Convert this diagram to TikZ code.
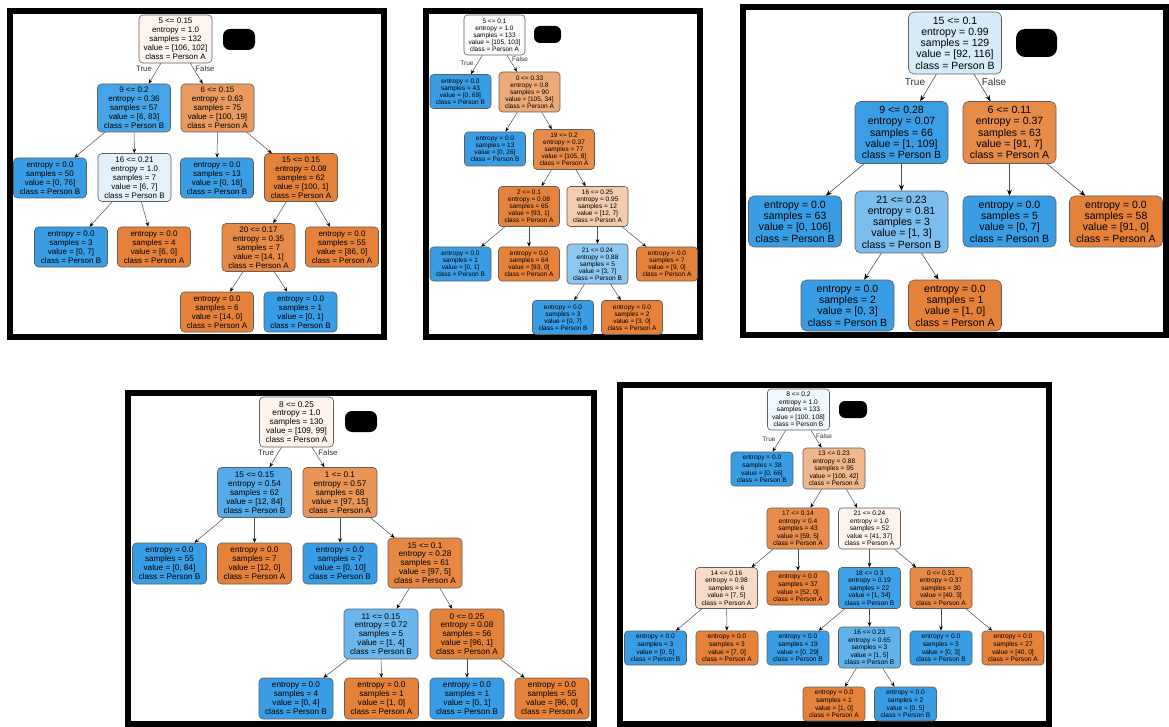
\documentclass[tikz,border=0pt]{standalone}
\usepackage{fontspec}
\setmainfont{Liberation Sans}
\usetikzlibrary{arrows.meta}
\definecolor{cB}{RGB}{57,157,229}
\definecolor{cA}{RGB}{229,129,57}
\definecolor{edgegray}{RGB}{80,80,80}
\definecolor{boxgray}{RGB}{95,95,95}
\tikzset{
  tn/.style={draw=boxgray, line width=0.6pt, align=center, inner sep=0pt, text=black},
  pa/.style={tn, rounded corners=4pt, font=\fontsize{8}{9}\selectfont, minimum width=73pt},
  pas/.style={pa, minimum height=48pt}, pal/.style={pa, minimum height=40pt},
  pb/.style={tn, rounded corners=3.5pt, font=\fontsize{6.5}{7.1}\selectfont, minimum width=61pt},
  pbs/.style={pb, minimum height=40pt}, pbl/.style={pb, minimum height=34pt},
  pc/.style={tn, rounded corners=5.5pt, font=\fontsize{10.5}{11.3}\selectfont, minimum width=93pt},
  pcs/.style={pc, minimum height=62pt}, pcl/.style={pc, minimum height=51pt},
  pd/.style={tn, rounded corners=4pt, font=\fontsize{8.2}{8.9}\selectfont, minimum width=74pt},
  pds/.style={pd, minimum height=50pt}, pdl/.style={pd, minimum height=41pt},
  pe/.style={tn, rounded corners=3.5pt, font=\fontsize{6.6}{7.6}\selectfont, minimum width=62pt},
  pes/.style={pe, minimum height=41pt}, pel/.style={pe, minimum height=34pt},
  edgeS/.style={draw=edgegray, line width=0.5pt, -{Stealth[length=4.5pt,width=3.6pt,color=black,fill=black]}},
  edgeL/.style={draw=edgegray, line width=0.6pt, -{Stealth[length=6pt,width=4.8pt,color=black,fill=black]}},
  lbl/.style={inner sep=0pt, text=black!80},
  redact/.style={fill=black, draw=none, inner sep=0pt},
  frame/.style={draw=black, line width=5.5pt}
}
\begin{document}
\begin{tikzpicture}[x=1pt,y=-1pt]
\fill[white] (0,0) rectangle (1169,727);
\useasboundingbox (0,0) rectangle (1169,727);

% ---------------- Panel 1 ----------------
\draw[frame] (10,11) rectangle (384,337);
\node[redact, rounded corners=7pt, minimum width=32pt, minimum height=21pt] (ar) at (239,39.5) {};
\node[pas, fill={rgb,255:red,253;green,245;blue,240}] (a0) at (175.5,39) {5 <= 0.15\\entropy = 1.0\\samples = 132\\value = [106, 102]\\class = Person A};
\node[pas, fill={rgb,255:red,71;green,164;blue,231}] (a1) at (134,108) {9 <= 0.2\\entropy = 0.36\\samples = 57\\value = [6, 83]\\class = Person B};
\node[pas, fill={rgb,255:red,234;green,153;blue,95}] (a2) at (217.5,108) {6 <= 0.15\\entropy = 0.63\\samples = 75\\value = [100, 19]\\class = Person A};
\node[pal, fill=cB] (a3) at (50,178) {entropy = 0.0\\samples = 50\\value = [0, 76]\\class = Person B};
\node[pas, fill={rgb,255:red,227;green,241;blue,251}] (a4) at (134.5,177.5) {16 <= 0.21\\entropy = 1.0\\samples = 7\\value = [6, 7]\\class = Person B};
\node[pal, fill=cB] (a5) at (217,178) {entropy = 0.0\\samples = 13\\value = [0, 18]\\class = Person B};
\node[pas, fill={rgb,255:red,229;green,130;blue,58}] (a6) at (301,177.5) {15 <= 0.15\\entropy = 0.08\\samples = 62\\value = [100, 1]\\class = Person A};
\node[pal, fill=cB] (a7) at (71,247) {entropy = 0.0\\samples = 3\\value = [0, 7]\\class = Person B};
\node[pal, fill=cA] (a8) at (154,247) {entropy = 0.0\\samples = 4\\value = [6, 0]\\class = Person A};
\node[pas, fill={rgb,255:red,231;green,138;blue,72}] (a9) at (258.5,247.5) {20 <= 0.17\\entropy = 0.35\\samples = 7\\value = [14, 1]\\class = Person A};
\node[pal, fill=cA] (a10) at (342,247) {entropy = 0.0\\samples = 55\\value = [86, 0]\\class = Person A};
\node[pal, fill=cA] (a11) at (217,312) {entropy = 0.0\\samples = 6\\value = [14, 0]\\class = Person A};
\node[pal, fill=cB] (a12) at (300.5,312) {entropy = 0.0\\samples = 1\\value = [0, 1]\\class = Person B};
\node[lbl, font=\fontsize{7.8}{9}\selectfont] (aT) at (144,69) {True};
\node[lbl, font=\fontsize{7.8}{9}\selectfont] (aF) at (205,69) {False};
\foreach \p/\c in {a0/a1,a0/a2,a1/a3,a1/a4,a2/a5,a2/a6,a4/a7,a4/a8,a6/a9,a6/a10,a9/a11,a9/a12}
  \draw[edgeS] (\p) -- (\c);

% ---------------- Panel 2 ----------------
\draw[frame] (426,11) rectangle (700,337);
\node[redact, rounded corners=6pt, minimum width=27pt, minimum height=17pt] (br) at (547.5,34.5) {};
\node[pbs, fill={rgb,255:red,254;green,252;blue,251}] (b0) at (494.5,35) {5 <= 0.1\\entropy = 1.0\\samples = 133\\value = [105, 103]\\class = Person A};
\node[pbl, fill=cB] (b1) at (460.5,91.5) {entropy = 0.0\\samples = 43\\value = [0, 69]\\class = Person B};
\node[pbs, fill={rgb,255:red,237;green,170;blue,121}] (b2) at (529.5,92) {0 <= 0.33\\entropy = 0.8\\samples = 90\\value = [105, 34]\\class = Person A};
\node[pbl, fill=cB] (b3) at (495,149) {entropy = 0.0\\samples = 13\\value = [0, 26]\\class = Person B};
\node[pbs, fill={rgb,255:red,231;green,139;blue,72}] (b4) at (564,149.5) {19 <= 0.2\\entropy = 0.37\\samples = 77\\value = [105, 8]\\class = Person A};
\node[pbs, fill={rgb,255:red,229;green,130;blue,59}] (b5) at (529,206.5) {2 <= 0.1\\entropy = 0.08\\samples = 65\\value = [93, 1]\\class = Person A};
\node[pbs, fill={rgb,255:red,244;green,203;blue,172}] (b6) at (597.5,206.5) {16 <= 0.25\\entropy = 0.95\\samples = 12\\value = [12, 7]\\class = Person A};
\node[pbl, fill=cB] (b7) at (460.5,264) {entropy = 0.0\\samples = 1\\value = [0, 1]\\class = Person B};
\node[pbl, fill=cA] (b8) at (529,264) {entropy = 0.0\\samples = 64\\value = [93, 0]\\class = Person A};
\node[pbs, fill={rgb,255:red,142;green,199;blue,240}] (b9) at (597.5,264) {21 <= 0.24\\entropy = 0.88\\samples = 5\\value = [3, 7]\\class = Person B};
\node[pbl, fill=cA] (b10) at (667,264) {entropy = 0.0\\samples = 7\\value = [9, 0]\\class = Person A};
\node[pbl, fill=cB] (b11) at (563,317.5) {entropy = 0.0\\samples = 3\\value = [0, 7]\\class = Person B};
\node[pbl, fill=cA] (b12) at (632,317.5) {entropy = 0.0\\samples = 2\\value = [3, 0]\\class = Person A};
\node[lbl, font=\fontsize{6.5}{7}\selectfont] (bT) at (467,63) {True};
\node[lbl, font=\fontsize{6.5}{7}\selectfont] (bF) at (520,59) {False};
\foreach \p/\c in {b0/b1,b0/b2,b2/b3,b2/b4,b4/b5,b4/b6,b5/b7,b5/b8,b6/b9,b6/b10,b9/b11,b9/b12}
  \draw[edgeS] (\p) -- (\c);

% ---------------- Panel 3 ----------------
\draw[frame] (743,7) rectangle (1166,335);
\node[redact, rounded corners=9pt, minimum width=41pt, minimum height=28pt] (cr) at (1036.5,43) {};
\node[pcs, fill={rgb,255:red,214;green,235;blue,250}] (c0) at (955,43) {15 <= 0.1\\entropy = 0.99\\samples = 129\\value = [92, 116]\\class = Person B};
\node[pcs, fill={rgb,255:red,59;green,158;blue,229}] (c1) at (901.5,132.5) {9 <= 0.28\\entropy = 0.07\\samples = 66\\value = [1, 109]\\class = Person B};
\node[pcs, fill={rgb,255:red,231;green,139;blue,72}] (c2) at (1009.5,132.5) {6 <= 0.11\\entropy = 0.37\\samples = 63\\value = [91, 7]\\class = Person A};
\node[pcl, fill=cB] (c3) at (795,221.5) {entropy = 0.0\\samples = 63\\value = [0, 106]\\class = Person B};
\node[pcs, fill={rgb,255:red,123;green,190;blue,238}] (c4) at (901.5,222) {21 <= 0.23\\entropy = 0.81\\samples = 3\\value = [1, 3]\\class = Person B};
\node[pcl, fill=cB] (c5) at (1009.5,221.5) {entropy = 0.0\\samples = 5\\value = [0, 7]\\class = Person B};
\node[pcl, fill=cA] (c6) at (1116,221.5) {entropy = 0.0\\samples = 58\\value = [91, 0]\\class = Person A};
\node[pcl, fill=cB] (c7) at (847.5,305.5) {entropy = 0.0\\samples = 2\\value = [0, 3]\\class = Person B};
\node[pcl, fill=cA] (c8) at (955,305.5) {entropy = 0.0\\samples = 1\\value = [1, 0]\\class = Person A};
\node[lbl, font=\fontsize{10}{11}\selectfont] (cT) at (915,82) {True};
\node[lbl, font=\fontsize{10}{11}\selectfont] (cF) at (994,82) {False};
\foreach \p/\c in {c0/c1,c0/c2,c1/c3,c1/c4,c2/c5,c2/c6,c4/c7,c4/c8}
  \draw[edgeL] (\p) -- (\c);

% ---------------- Panel 4 ----------------
\draw[frame] (128,393) rectangle (594,724);
\node[redact, rounded corners=7pt, minimum width=32pt, minimum height=21pt] (dr) at (361,421.5) {};
\node[pds, fill={rgb,255:red,253;green,243;blue,237}] (d0) at (296.5,422) {8 <= 0.25\\entropy = 1.0\\samples = 130\\value = [109, 99]\\class = Person A};
\node[pds, fill={rgb,255:red,85;green,171;blue,233}] (d1) at (254.5,492.5) {15 <= 0.15\\entropy = 0.54\\samples = 62\\value = [12, 84]\\class = Person B};
\node[pds, fill={rgb,255:red,233;green,149;blue,88}] (d2) at (340,492.5) {1 <= 0.1\\entropy = 0.57\\samples = 68\\value = [97, 15]\\class = Person A};
\node[pdl, fill=cB] (d3) at (169.5,563.5) {entropy = 0.0\\samples = 55\\value = [0, 84]\\class = Person B};
\node[pdl, fill=cA] (d4) at (254.5,563.5) {entropy = 0.0\\samples = 7\\value = [12, 0]\\class = Person A};
\node[pdl, fill=cB] (d5) at (340,563.5) {entropy = 0.0\\samples = 7\\value = [0, 10]\\class = Person B};
\node[pds, fill={rgb,255:red,230;green,136;blue,67}] (d6) at (425,563) {15 <= 0.1\\entropy = 0.28\\samples = 61\\value = [97, 5]\\class = Person A};
\node[pds, fill={rgb,255:red,106;green,181;blue,235}] (d7) at (381,634) {11 <= 0.15\\entropy = 0.72\\samples = 5\\value = [1, 4]\\class = Person B};
\node[pds, fill={rgb,255:red,229;green,130;blue,58}] (d8) at (467,634) {0 <= 0.25\\entropy = 0.08\\samples = 56\\value = [96, 1]\\class = Person A};
\node[pdl, fill=cB] (d9) at (296,698.5) {entropy = 0.0\\samples = 4\\value = [0, 4]\\class = Person B};
\node[pdl, fill=cA] (d10) at (381.5,698.5) {entropy = 0.0\\samples = 1\\value = [1, 0]\\class = Person A};
\node[pdl, fill=cB] (d11) at (467,698.5) {entropy = 0.0\\samples = 1\\value = [0, 1]\\class = Person B};
\node[pdl, fill=cA] (d12) at (552,698.5) {entropy = 0.0\\samples = 55\\value = [96, 0]\\class = Person A};
\node[lbl, font=\fontsize{7.8}{9}\selectfont] (dT) at (266,453) {True};
\node[lbl, font=\fontsize{7.8}{9}\selectfont] (dF) at (328,453) {False};
\foreach \p/\c in {d0/d1,d0/d2,d1/d3,d1/d4,d2/d5,d2/d6,d6/d7,d6/d8,d7/d9,d7/d10,d8/d11,d8/d12}
  \draw[edgeS] (\p) -- (\c);

% ---------------- Panel 5 ----------------
\draw[frame] (620,385) rectangle (1049,724);
\node[redact, rounded corners=6pt, minimum width=28pt, minimum height=17pt] (er) at (853,409.5) {};
\node[pes, fill={rgb,255:red,240;green,248;blue,253}] (e0) at (798.5,409.5) {8 <= 0.2\\entropy = 1.0\\samples = 133\\value = [100, 108]\\class = Person B};
\node[pel, fill=cB] (e1) at (762,469) {entropy = 0.0\\samples = 38\\value = [0, 66]\\class = Person B};
\node[pes, fill={rgb,255:red,240;green,182;blue,140}] (e2) at (834,468.5) {13 <= 0.23\\entropy = 0.88\\samples = 95\\value = [100, 42]\\class = Person A};
\node[pes, fill={rgb,255:red,231;green,140;blue,74}] (e3) at (798,528.5) {17 <= 0.14\\entropy = 0.4\\samples = 43\\value = [59, 5]\\class = Person A};
\node[pes, fill={rgb,255:red,252;green,243;blue,236}] (e4) at (869.5,528.5) {21 <= 0.24\\entropy = 1.0\\samples = 52\\value = [41, 37]\\class = Person A};
\node[pes, fill={rgb,255:red,248;green,219;blue,198}] (e5) at (726.5,588) {14 <= 0.16\\entropy = 0.98\\samples = 6\\value = [7, 5]\\class = Person A};
\node[pel, fill=cA] (e6) at (798,588) {entropy = 0.0\\samples = 37\\value = [52, 0]\\class = Person A};
\node[pes, fill={rgb,255:red,63;green,160;blue,230}] (e7) at (869.5,588) {18 <= 0.3\\entropy = 0.19\\samples = 22\\value = [1, 34]\\class = Person B};
\node[pes, fill={rgb,255:red,231;green,138;blue,72}] (e8) at (941,588) {0 <= 0.31\\entropy = 0.37\\samples = 30\\value = [40, 3]\\class = Person A};
\node[pel, fill=cB] (e9) at (655.5,648) {entropy = 0.0\\samples = 3\\value = [0, 5]\\class = Person B};
\node[pel, fill=cA] (e10) at (727,648) {entropy = 0.0\\samples = 3\\value = [7, 0]\\class = Person A};
\node[pel, fill=cB] (e11) at (798,648) {entropy = 0.0\\samples = 19\\value = [0, 29]\\class = Person B};
\node[pes, fill={rgb,255:red,97;green,177;blue,234}] (e12) at (869.5,647.5) {16 <= 0.23\\entropy = 0.65\\samples = 3\\value = [1, 5]\\class = Person B};
\node[pel, fill=cB] (e13) at (941,648) {entropy = 0.0\\samples = 3\\value = [0, 3]\\class = Person B};
\node[pel, fill=cA] (e14) at (1013,648) {entropy = 0.0\\samples = 27\\value = [40, 0]\\class = Person A};
\node[pel, fill=cA] (e15) at (834,704) {entropy = 0.0\\samples = 1\\value = [1, 0]\\class = Person A};
\node[pel, fill=cB] (e16) at (905.5,704) {entropy = 0.0\\samples = 2\\value = [0, 5]\\class = Person B};
\node[lbl, font=\fontsize{6.5}{7}\selectfont] (eT) at (769,439) {True};
\node[lbl, font=\fontsize{6.5}{7}\selectfont] (eF) at (824,436) {False};
\foreach \p/\c in {e0/e1,e0/e2,e2/e3,e2/e4,e3/e5,e3/e6,e4/e7,e4/e8,e5/e9,e5/e10,e7/e11,e7/e12,e8/e13,e8/e14,e12/e15,e12/e16}
  \draw[edgeS] (\p) -- (\c);
\end{tikzpicture}
\end{document}
